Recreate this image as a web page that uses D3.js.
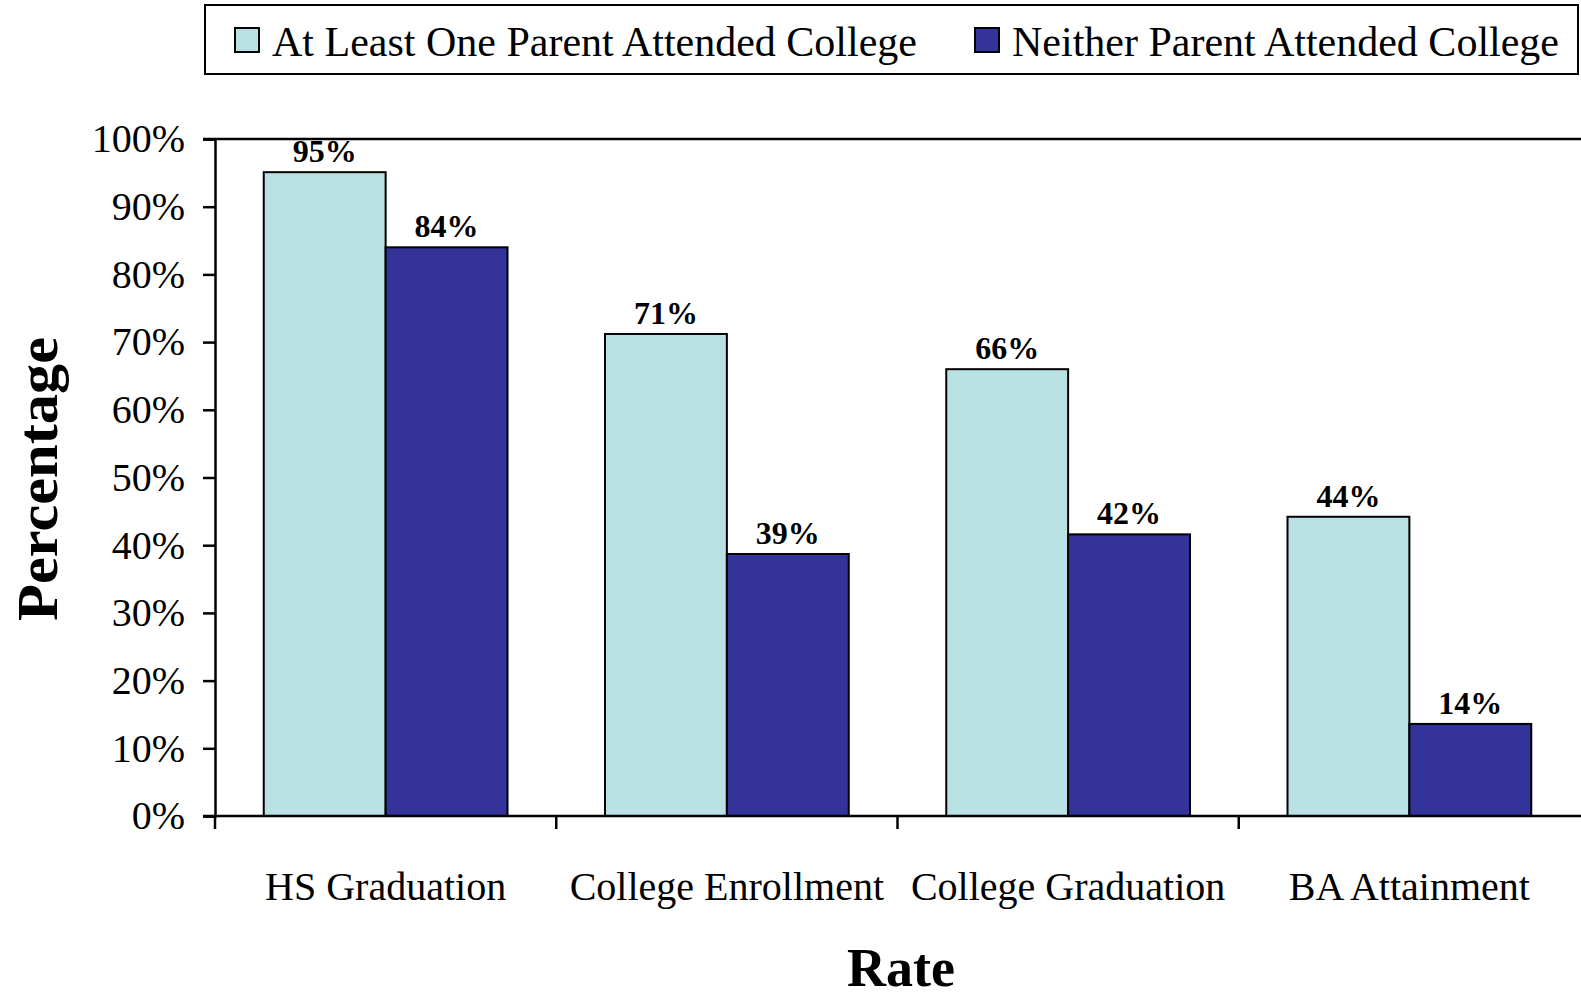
<!DOCTYPE html>
<html>
<head>
<meta charset="utf-8">
<script src="https://cdn.jsdelivr.net/npm/d3@7"></script>
<style>
  body { margin: 0; background: #fff; }
  text { font-family: "Liberation Serif", "Times New Roman", serif; }
</style>
</head>
<body>
<svg id="container"></svg>
<script>
// chart data
const categories = ["HS Graduation", "College Enrollment", "College Graduation", "BA Attainment"];
const seriesNames = ["At Least One Parent Attended College", "Neither Parent Attended College"];
const atLeastOne = [95.1, 71.2, 66, 44.2];
const neither = [84, 38.7, 41.6, 13.6];
const yTicks = [0, 10, 20, 30, 40, 50, 60, 70, 80, 90, 100];
const colors = ["#b9e0e3", "#333399"];

let width = 1581, height = 1000;
var margin = {top: 139, right: 1, bottom: 184, left: 215};

let svg = d3.select("#container")
    .attr("width", width)
    .attr("height", height);

// build rows for the bars
let rows = [];
categories.forEach((cat, i) => {
    rows.push({cat: cat, series: seriesNames[0], value: atLeastOne[i]});
    rows.push({cat: cat, series: seriesNames[1], value: neither[i]});
});

const xScale = d3.scaleBand()
    .domain(categories)
    .range([margin.left, width - margin.right])
    .padding(0);

const xInner = d3.scaleBand()
    .domain(seriesNames)
    .range([0, xScale.bandwidth()])
    .paddingInner(0)
    .paddingOuter(0.4);

const yScale = d3.scaleLinear()
    .domain([0, 100])
    .range([height - margin.bottom, margin.top]);

const colorScale = d3.scaleOrdinal().domain(seriesNames).range(colors);

// top border line at 100%
svg.append("line")
    .attr("x1", margin.left - 12).attr("x2", width)
    .attr("y1", yScale(100)).attr("y2", yScale(100))
    .attr("stroke", "#000").attr("stroke-width", 2.5);

// bars
svg.append("g")
    .selectAll("rect")
    .data(rows)
    .enter()
    .append("rect")
        .attr("x", d => xScale(d.cat) + xInner(d.series))
        .attr("y", d => yScale(d.value))
        .attr("width", xInner.bandwidth())
        .attr("height", d => yScale(0) - yScale(d.value))
        .attr("fill", d => colorScale(d.series))
        .attr("stroke", "#000")
        .attr("stroke-width", 2);

// value labels
svg.append("g")
    .selectAll("text")
    .data(rows)
    .enter()
    .append("text")
        .attr("x", d => xScale(d.cat) + xInner(d.series) + xInner.bandwidth() / 2)
        .attr("y", d => yScale(d.value) - 10)
        .attr("text-anchor", "middle")
        .style("font-size", "32px")
        .style("font-weight", "bold")
        .text(d => Math.round(d.value) + "%");

// y axis
svg.append("g")
    .attr("transform", "translate(" + margin.left + ",0)")
    .call(d3.axisLeft(yScale).tickValues(yTicks).tickSize(12).tickPadding(18).tickFormat(d => d + "%"))
    .call(g => g.select(".domain").attr("stroke-width", 2.5))
    .call(g => g.selectAll(".tick line").attr("stroke-width", 2.5))
    .call(g => g.selectAll(".tick text")
        .style("font-family", "Liberation Serif, serif")
        .style("font-size", "40px")
        .attr("fill", "#000"));

// x axis
let xAxis = svg.append("g")
    .attr("transform", "translate(0," + yScale(0) + ")");
xAxis.append("line")
    .attr("x1", margin.left - 12).attr("x2", width)
    .attr("stroke", "#000").attr("stroke-width", 2.5);
xAxis.selectAll("line.sep")
    .data(categories)
    .enter()
    .append("line")
        .attr("class", "sep")
        .attr("x1", d => xScale(d)).attr("x2", d => xScale(d))
        .attr("y1", 0).attr("y2", 13)
        .attr("stroke", "#000").attr("stroke-width", 2.5);
xAxis.selectAll("text")
    .data(categories)
    .enter()
    .append("text")
        .attr("x", d => xScale(d) + xScale.bandwidth() / 2)
        .attr("y", 84)
        .attr("text-anchor", "middle")
        .style("font-size", "40px")
        .text(d => d);

// axis titles
svg.append("text")
    .attr("x", (margin.left + width) / 2 + 3)
    .attr("y", 986)
    .attr("text-anchor", "middle")
    .style("font-size", "54px")
    .style("font-weight", "bold")
    .text("Rate");

svg.append("text")
    .attr("transform", "translate(57," + 479 + ") rotate(-90)")
    .attr("text-anchor", "middle")
    .attr("textLength", 284)
    .attr("lengthAdjust", "spacingAndGlyphs")
    .style("font-size", "56px")
    .style("font-weight", "bold")
    .text("Percentage");

// legend
let legend = svg.append("g");
legend.append("rect")
    .attr("x", 205).attr("y", 5)
    .attr("width", 1373).attr("height", 69)
    .attr("fill", "#fff")
    .attr("stroke", "#000").attr("stroke-width", 2);

const legendX = [235, 975];
let items = legend.selectAll("g.item")
    .data(seriesNames)
    .enter()
    .append("g")
        .attr("class", "item")
        .attr("transform", (d, i) => "translate(" + legendX[i] + ",28)");
items.append("rect")
    .attr("width", 24).attr("height", 24)
    .attr("fill", d => colorScale(d))
    .attr("stroke", "#000").attr("stroke-width", 2);
items.append("text")
    .attr("x", 37)
    .attr("y", 28)
    .style("font-size", "42px")
    .text(d => d);
</script>
</body>
</html>
